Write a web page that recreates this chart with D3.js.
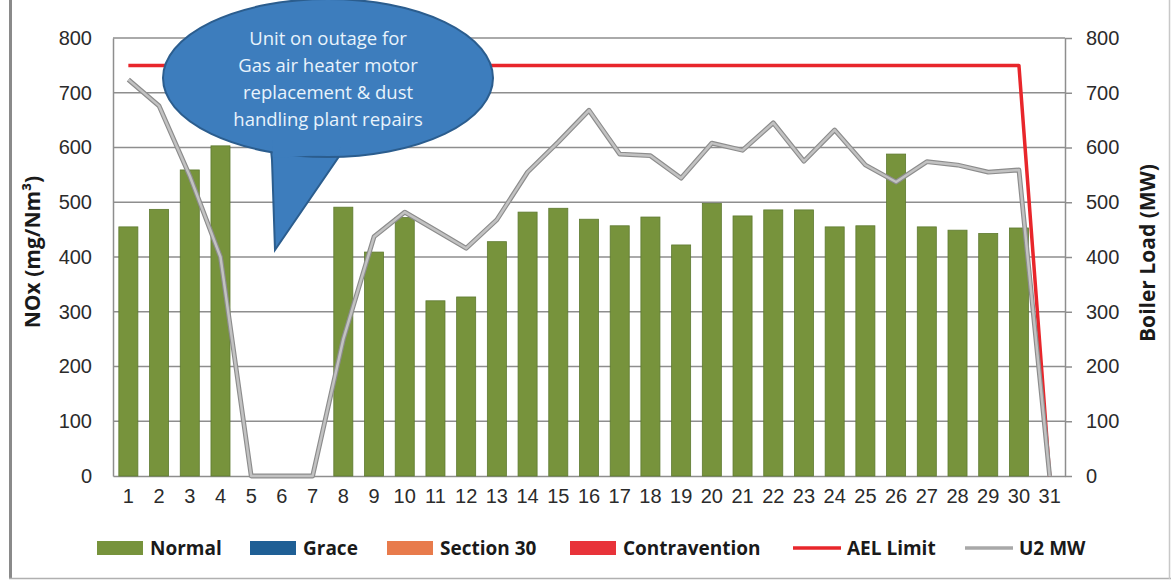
<!DOCTYPE html>
<html>
<head>
<meta charset="utf-8">
<script src="https://cdn.jsdelivr.net/npm/d3@7"></script>
<style>
  html, body { margin: 0; padding: 0; background: #fff; }
  svg { display: block; font-family: "Open Sans", Lato, sans-serif; }
  .tick-label { font-size: 20px; fill: #2b2b2b; }
  .axis-title { font-size: 21px; font-weight: bold; fill: #1a1a1a; }
  .legend-label { font-size: 19px; font-weight: bold; fill: #1a1a1a; }
  .callout-text { font-size: 18.5px; fill: #e8f3fc; }
</style>
</head>
<body>
<script>
// data
const days = d3.range(1, 32);
const normal = [455, 487, 559, 603, 0, 0, 0, 491, 409, 472, 320, 327, 428, 482, 489,
  469, 457, 473, 422, 498, 475, 486, 486, 455, 457, 588, 455, 449, 443, 453, 0];
const aelLimit = [750, 750, 750, 750, 750, 750, 750, 750, 750, 750, 750, 750, 750, 750, 750,
  750, 750, 750, 750, 750, 750, 750, 750, 750, 750, 750, 750, 750, 750, 750, 0];
const u2MW = [724, 676, 548, 400, 0, 0, 0, 250, 437, 482, 449, 416, 468, 555, 610,
  668, 588, 585, 544, 608, 595, 645, 575, 632, 568, 537, 574, 568, 555, 559, 0];
const yTicks = [0, 100, 200, 300, 400, 500, 600, 700, 800];
const legendItems = [
  { label: 'Normal', color: '#77933c', type: 'bar' },
  { label: 'Grace', color: '#1f5f95', type: 'bar' },
  { label: 'Section 30', color: '#e87b4c', type: 'bar' },
  { label: 'Contravention', color: '#e8333a', type: 'bar' },
  { label: 'AEL Limit', color: '#e8262b', type: 'line' },
  { label: 'U2 MW', color: '#a8a8a8', type: 'line' }
];
const calloutLines = ['Unit on outage for', 'Gas air heater motor', 'replacement & dust', 'handling plant repairs'];

// svg params
const svgW = 1171;
const svgH = 582;
const plot = { left: 113, right: 1065, top: 38, bottom: 476 };

const svg = d3.select('body').append('svg').attr('width', svgW).attr('height', svgH);

const x = d3.scaleBand().domain(days).range([ plot.left, plot.right ]).paddingInner(0.38).paddingOuter(0.19);
const yL = d3.scaleLinear().domain([ 0, 800 ]).range([ plot.bottom, plot.top ]);
const yR = d3.scaleLinear().domain([ 0, 800 ]).range([ plot.bottom, plot.top ]);
const cx = (d) => x(d) + x.bandwidth() / 2;

// frame
svg.append('line').attr('x1', 10.5).attr('x2', 10.5).attr('y1', 0).attr('y2', 579)
  .attr('stroke', '#8a8a8a').attr('stroke-width', 3);
svg.append('line').attr('x1', 9).attr('x2', svgW).attr('y1', 578.5).attr('y2', 578.5)
  .attr('stroke', '#b0b0b0').attr('stroke-width', 1.5);
svg.append('line').attr('x1', 1169.5).attr('x2', 1169.5).attr('y1', 0).attr('y2', 579)
  .attr('stroke', '#c8c8c8').attr('stroke-width', 1.5);

/*
  gridlines
*/
svg.append('g')
  .selectAll('line')
  .data(yTicks.filter((t) => t > 0))
  .join('line')
  .attr('x1', plot.left).attr('x2', plot.right)
  .attr('y1', (d) => yL(d)).attr('y2', (d) => yL(d))
  .attr('stroke', '#8e8e8e').attr('stroke-width', 1.5);

// left axis
const gL = svg.append('g').attr('transform', `translate(${plot.left},0)`)
  .call(d3.axisLeft(yL).tickValues(yTicks).tickSize(0).tickPadding(21));
gL.select('.domain').attr('stroke', '#8e8e8e').attr('stroke-width', 1.5);
gL.selectAll('text').attr('class', 'tick-label').attr('font-family', null).attr('font-size', null).attr('fill', null);

// right axis
const gR = svg.append('g').attr('transform', `translate(${plot.right},0)`)
  .call(d3.axisRight(yR).tickValues(yTicks).tickSize(7).tickSizeOuter(0).tickPadding(14));
gR.select('.domain').attr('stroke', '#8e8e8e').attr('stroke-width', 1.5);
gR.selectAll('line').attr('stroke', '#8e8e8e').attr('stroke-width', 1.5);
gR.selectAll('text').attr('class', 'tick-label').attr('font-family', null).attr('font-size', null).attr('fill', null);

// bottom axis
const gB = svg.append('g').attr('transform', `translate(0,${plot.bottom})`)
  .call(d3.axisBottom(x).tickSize(0).tickPadding(13));
gB.select('.domain').attr('stroke', '#8e8e8e').attr('stroke-width', 1.5);
gB.selectAll('text').attr('class', 'tick-label').attr('font-family', null).attr('font-size', null).attr('fill', null);

// axis titles
svg.append('text').attr('class', 'axis-title')
  .attr('transform', `translate(40,${(plot.top + plot.bottom) / 2 - 5}) rotate(-90)`)
  .attr('text-anchor', 'middle').text('NOx (mg/Nm³)');
svg.append('text').attr('class', 'axis-title')
  .attr('transform', `translate(1155,${(plot.top + plot.bottom) / 2 - 4}) rotate(-90)`)
  .attr('text-anchor', 'middle').text('Boiler Load (MW)');

/*
  bars
*/
svg.append('g')
  .selectAll('rect')
  .data(days.map((d, i) => ({ day: d, v: normal[i] })).filter((d) => d.v > 0))
  .join('rect')
  .attr('x', (d) => x(d.day))
  .attr('width', x.bandwidth())
  .attr('y', (d) => yL(d.v))
  .attr('height', (d) => yL(0) - yL(d.v))
  .attr('fill', '#77933c')
  .attr('stroke', '#5e7a30')
  .attr('stroke-width', 0.8);

/*
  lines
*/
const lineL = d3.line().x((d, i) => cx(days[i])).y((d) => yL(d));
const lineR = d3.line().x((d, i) => cx(days[i])).y((d) => yR(d));

svg.append('path').datum(aelLimit).attr('d', lineL)
  .attr('fill', 'none').attr('stroke', '#e8262b').attr('stroke-width', 3.5)
  .attr('stroke-linejoin', 'round');
svg.append('path').datum(u2MW).attr('d', lineR)
  .attr('fill', 'none').attr('stroke', '#8c8c8c').attr('stroke-width', 4.8)
  .attr('stroke-linejoin', 'round');
svg.append('path').datum(u2MW).attr('d', lineR)
  .attr('fill', 'none').attr('stroke', '#c2c2c2').attr('stroke-width', 2.5)
  .attr('stroke-linejoin', 'round');

/*
  callout
*/
const call = { cx: 328, cy: 78, rx: 165, ry: 79 };
const callout = svg.append('g');
const tail = [ [ 270, 140 ], [ 272, 160 ], [ 275, 250 ], [ 340, 155 ], [ 345, 140 ] ];
callout.append('path')
  .attr('d', d3.line()(tail) + 'Z')
  .attr('fill', '#3d7dbd').attr('stroke', '#2b5d8e').attr('stroke-width', 2);
callout.append('ellipse')
  .attr('cx', call.cx).attr('cy', call.cy).attr('rx', call.rx).attr('ry', call.ry)
  .attr('fill', '#3d7dbd').attr('stroke', '#2b5d8e').attr('stroke-width', 2);
// cover the seam between ellipse and tail
callout.append('path')
  .attr('d', d3.line()([ [ 272, 140 ], [ 273, 158 ], [ 338, 154 ], [ 343, 140 ] ]) + 'Z')
  .attr('fill', '#3d7dbd');
callout.selectAll('text')
  .data(calloutLines)
  .join('text')
  .attr('class', 'callout-text')
  .attr('x', call.cx)
  .attr('y', (d, i) => 45 + i * 27)
  .attr('text-anchor', 'middle')
  .text((d) => d);

/*
  legend
*/
const legendX = [ 97, 250, 387, 570, 793, 965 ];
const legendY = 548;
const lg = svg.append('g')
  .selectAll('g')
  .data(legendItems)
  .join('g')
  .attr('transform', (d, i) => `translate(${legendX[i]},${legendY})`);
lg.filter((d) => d.type === 'bar').append('rect')
  .attr('x', 0).attr('y', -7).attr('width', 46).attr('height', 14)
  .attr('fill', (d) => d.color);
lg.filter((d) => d.type === 'line').append('line')
  .attr('x1', 0).attr('x2', 48).attr('y1', 0).attr('y2', 0)
  .attr('stroke', (d) => d.color).attr('stroke-width', 3.5);
lg.append('text')
  .attr('class', 'legend-label')
  .attr('x', (d) => d.type === 'bar' ? 53 : 54)
  .attr('dy', '0.35em')
  .text((d) => d.label);
</script>
</body>
</html>
